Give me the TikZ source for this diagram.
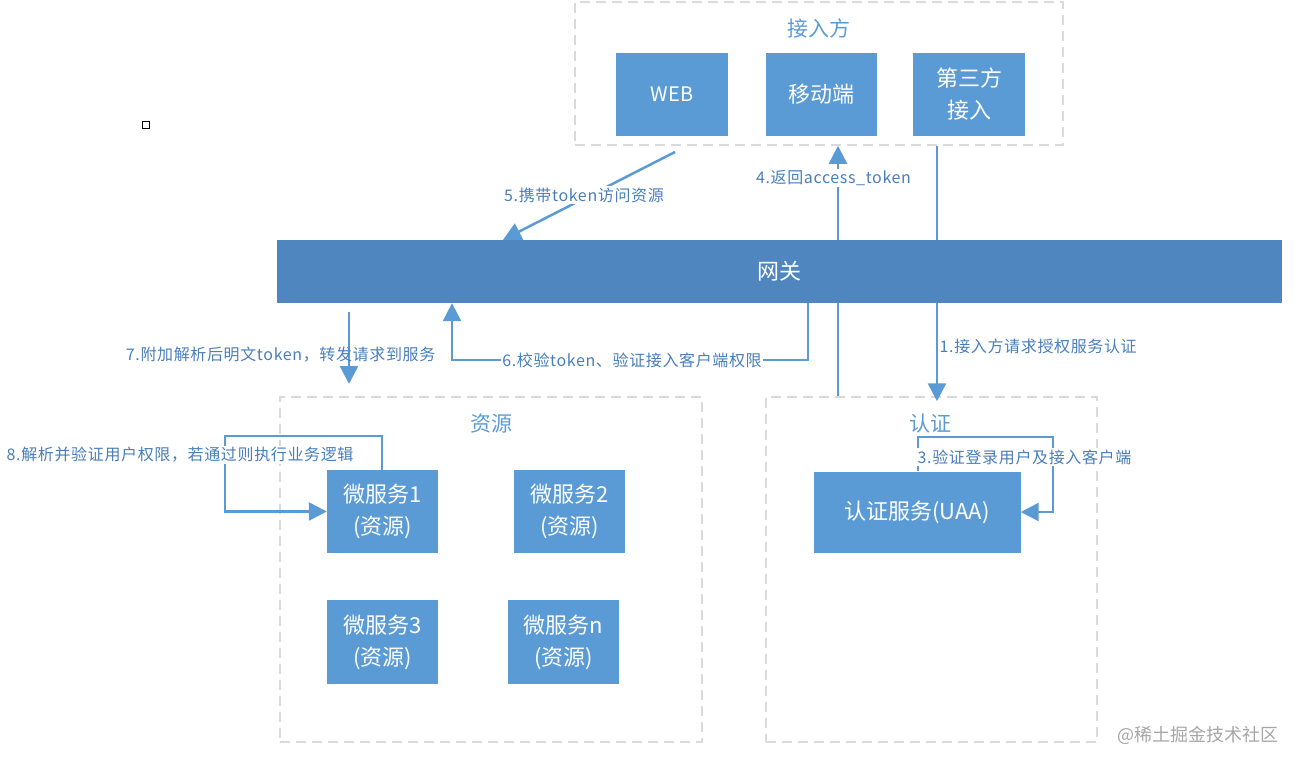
\documentclass[tikz,border=0pt]{standalone}
\usepackage{fontspec}
\setmainfont{Noto Sans CJK SC}
\newfontfamily\labfont[LetterSpace=4]{Noto Sans CJK SC}
\usetikzlibrary{arrows.meta,calc}
\definecolor{boxc}{HTML}{5B9BD5}
\definecolor{gwc}{HTML}{4F86C0}
\definecolor{linec}{HTML}{5B9BD5}
\definecolor{labc}{HTML}{4A7EBB}
\definecolor{dashc}{HTML}{DADADA}
\definecolor{wmc}{HTML}{A6A6A6}
\begin{document}
\begin{tikzpicture}[x=1pt,y=-1pt,
  blk/.style={draw=none,fill=boxc,text=white,font=\fontsize{22}{32}\selectfont,align=center,inner sep=0pt},
  grp/.style={draw=dashc,line width=1.5pt,dash pattern=on 10pt off 6pt,inner sep=0pt},
  ttl/.style={text=boxc,font=\fontsize{21}{24}\selectfont,inner sep=1pt},
  lab/.style={text=labc,font=\labfont\fontsize{16}{18}\selectfont,inner sep=1.5pt},
  labw/.style={lab,fill=white},
  arr/.style={draw=linec,line width=2.5pt,-{Triangle[length=18pt,width=18pt]}},
]
\useasboundingbox (0,0) rectangle (1299,766);

% groups
\node[grp,minimum width=488pt,minimum height=143pt] (acc) at (819,73.5) {};
\node[grp,minimum width=422pt,minimum height=345pt] (res) at (491,569.5) {};
\node[grp,minimum width=331pt,minimum height=345pt] (auth) at (931.5,569.5) {};
\node[ttl] (accT) at (819,28) {接入方};
\node[ttl] (resT) at (491,424) {资源};
\node[ttl] (authT) at (930,424) {认证};

% client boxes
\node[blk,font=\fontsize{20}{24}\selectfont,minimum width=112pt,minimum height=83pt] (web) at (672,94.5) {WEB};
\node[blk,minimum width=111pt,minimum height=83pt] (mob) at (821.5,94.5) {移动端};
\node[blk,minimum width=112pt,minimum height=83pt] (third) at (969,94.5) {第三方\\接入};

% services
\node[blk,minimum width=111pt,minimum height=83pt] (ms1) at (382.5,511.5) {微服务1\\(资源)};
\node[blk,minimum width=111pt,minimum height=83pt] (ms2) at (569.5,511.5) {微服务2\\(资源)};
\node[blk,minimum width=111pt,minimum height=84pt] (ms3) at (382.5,642) {微服务3\\(资源)};
\node[blk,minimum width=111pt,minimum height=84pt] (msn) at (563.5,642) {微服务n\\(资源)};
\node[blk,minimum width=207pt,minimum height=81pt] (uaa) at (917,512) {认证服务(UAA)};

% helper coordinates
\coordinate (c1) at (937,0);
\coordinate (c4) at (838,0);
\coordinate (c5a) at (675,152);
\coordinate (c5b) at (503,0);
\coordinate (c6r) at (808,360);
\coordinate (c6l) at (452,360);
\coordinate (c7a) at (349,312);
\coordinate (c7b) at (349,384);
\coordinate (c8a) at (382,436);
\coordinate (c8b) at (225,436);
\coordinate (c3a) at (918,437);
\coordinate (c3b) at (1053,437);

% connectors (drawn before gateway so it covers them)
\draw[arr] (c1 |- acc.south) -- ([yshift=-5pt]c1 |- auth.north);
\draw[arr] (c4 |- auth.north) -- (c4 |- acc.south);

% gateway
\node[fill=gwc,text=white,font=\fontsize{22}{26}\selectfont,minimum width=1005pt,minimum height=63pt,inner sep=0pt] (gw) at (779.5,271.5) {网关};

\draw[arr] (c5a) -- (c5b |- gw.north);
\draw[arr] (c6r |- gw.south) -- (c6r) -- (c6l) -- (c6l |- gw.south);
\draw[arr] (c7a) -- (c7b);
\draw[arr] (c8a |- ms1.north) -- (c8a) -- (c8b) -- (c8b |- ms1.west) -- (ms1.west);
\draw[arr] (c3a |- uaa.north) -- (c3a) -- (c3b) -- (c3b |- uaa.east) -- (uaa.east);

% labels
\node[lab,anchor=west] (l1) at (938,346) {1.接入方请求授权服务认证};
\node[labw,anchor=west] (l3) at (916,457) {3.验证登录用户及接入客户端};
\node[labw] (l4) at (833.5,178) {4.返回access\_token};
\node[labw] (l5) at (584,195) {5.携带token访问资源};
\node[labw] (l6) at (632,360) {6.校验token、验证接入客户端权限};
\node[lab,anchor=east] (l7) at (437,355) {7.附加解析后明文token，转发请求到服务};
\node[labw,anchor=west] (l8) at (5,455) {8.解析并验证用户权限，若通过则执行业务逻辑};

% misc
\node[draw=black,line width=1pt,minimum size=7pt,inner sep=0pt] (sq) at (146,125) {};
\node[text=wmc,font=\fontsize{18}{20}\selectfont] (wm) at (1198,735) {@稀土掘金技术社区};
\end{tikzpicture}
\end{document}
